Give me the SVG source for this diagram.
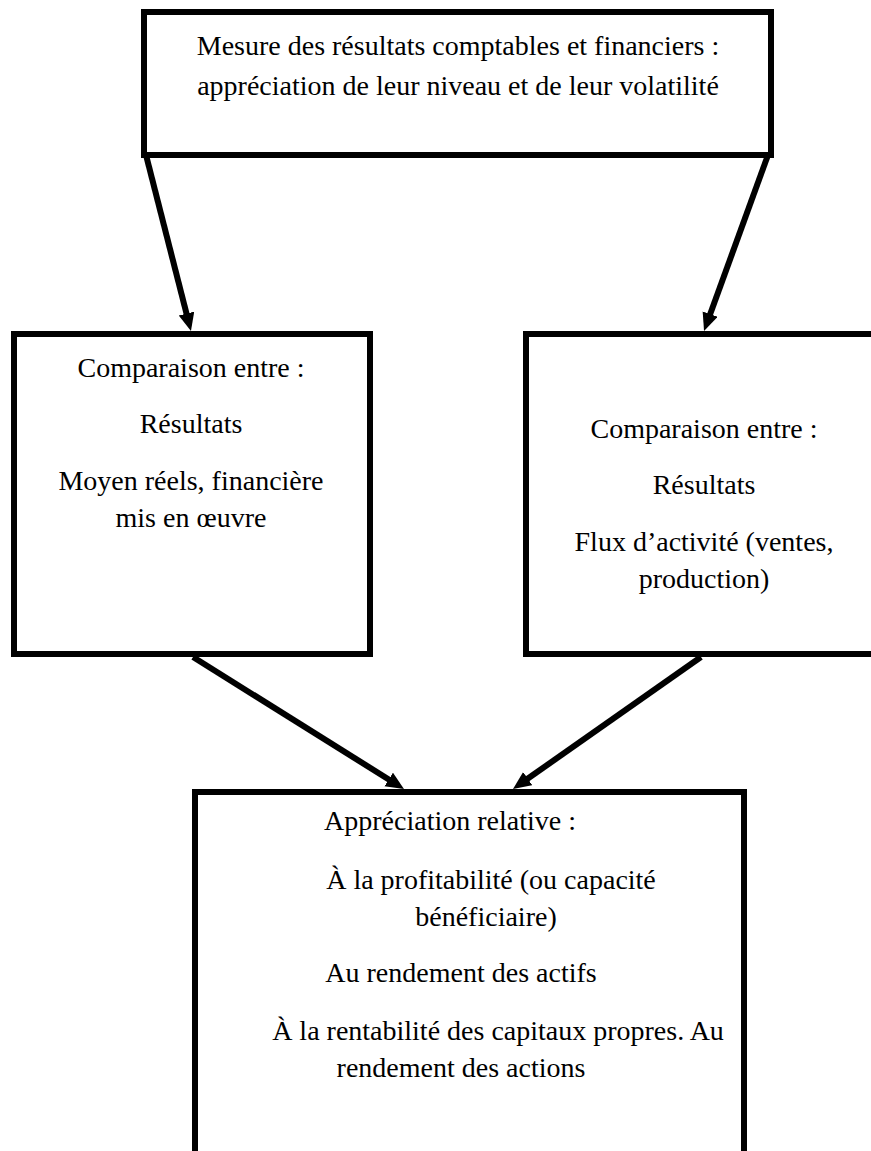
<svg xmlns="http://www.w3.org/2000/svg" width="871" height="1151" viewBox="0 0 871 1151">
<style>
.box{fill:#fff;stroke:#000;stroke-width:6}
.t{font-family:'Liberation Serif','DejaVu Serif',serif;font-size:28px;fill:#000;text-anchor:middle}
.c{stroke:#000;stroke-width:6;fill:none}
</style>
<defs>
<marker id="ah" markerUnits="userSpaceOnUse" markerWidth="20" markerHeight="18" refX="2" refY="8" orient="auto">
<path d="M0,0 L18,8 L0,16 z" fill="#000"/>
</marker>
</defs>
<rect width="871" height="1151" fill="#fff"/>
<g id="connectors">
<line class="c" x1="146" y1="155" x2="187" y2="315.5" marker-end="url(#ah)"/>
<line class="c" x1="768" y1="155" x2="709.5" y2="316" marker-end="url(#ah)"/>
<line class="c" x1="193" y1="657" x2="390.4" y2="780.5" marker-end="url(#ah)"/>
<line class="c" x1="701" y1="657" x2="526.1" y2="779.8" marker-end="url(#ah)"/>
</g>
<g id="node-top">
<rect class="box" x="144" y="12" width="627" height="143"/>
<text class="t" font-family="Liberation Serif, serif" x="458" y="55">Mesure des résultats comptables et financiers :</text>
<text class="t" font-family="Liberation Serif, serif" x="458" y="95">appréciation de leur niveau et de leur volatilité</text>
</g>
<g id="node-left">
<rect class="box" x="14" y="334" width="356" height="320"/>
<text class="t" font-family="Liberation Serif, serif" x="191" y="377">Comparaison entre :</text>
<text class="t" font-family="Liberation Serif, serif" x="191" y="433">Résultats</text>
<text class="t" font-family="Liberation Serif, serif" x="191" y="490">Moyen réels, financière</text>
<text class="t" font-family="Liberation Serif, serif" x="191" y="527">mis en œuvre</text>
</g>
<g id="node-right">
<rect class="box" x="526" y="334" width="360" height="320"/>
<text class="t" font-family="Liberation Serif, serif" x="704" y="438">Comparaison entre :</text>
<text class="t" font-family="Liberation Serif, serif" x="704" y="494">Résultats</text>
<text class="t" font-family="Liberation Serif, serif" x="704" y="551">Flux d’activité (ventes,</text>
<text class="t" font-family="Liberation Serif, serif" x="704" y="588">production)</text>
</g>
<g id="node-bottom">
<rect class="box" x="195" y="792" width="549" height="380"/>
<text class="t" font-family="Liberation Serif, serif" x="450" y="830">Appréciation relative :</text>
<text class="t" font-family="Liberation Serif, serif" x="491" y="889">À la profitabilité (ou capacité</text>
<text class="t" font-family="Liberation Serif, serif" x="486" y="926">bénéficiaire)</text>
<text class="t" font-family="Liberation Serif, serif" x="461" y="982">Au rendement des actifs</text>
<text class="t" font-family="Liberation Serif, serif" x="498" y="1040">À la rentabilité des capitaux propres. Au</text>
<text class="t" font-family="Liberation Serif, serif" x="461" y="1077">rendement des actions</text>
</g>
</svg>
